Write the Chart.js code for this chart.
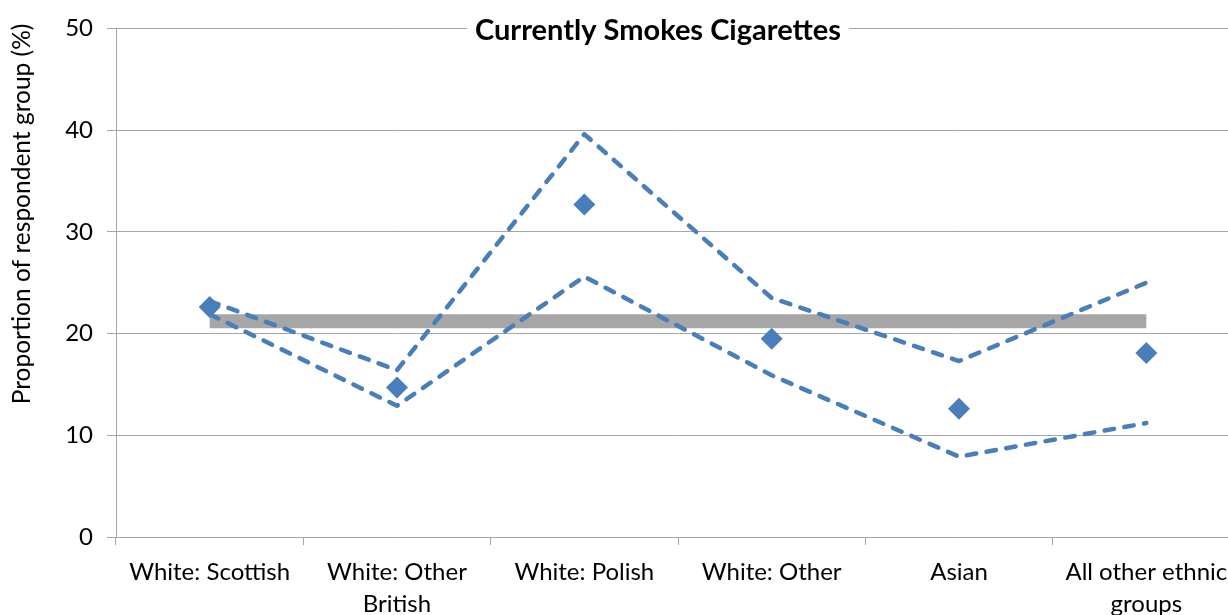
<!DOCTYPE html>
<html>
<head>
<meta charset="utf-8">
<script src="https://cdn.jsdelivr.net/npm/chart.js@4.4.1/dist/chart.umd.min.js"></script>
<style>
  html, body { margin: 0; padding: 0; background: #ffffff; overflow: hidden; }
  #wrap { width: 1316px; height: 615px; }
</style>
</head>
<body>
<div id="wrap"><canvas id="chart" width="1316" height="615"></canvas></div>
<script>
// Ethnic groups on the category axis (multi-line labels as arrays)
const categories = [
  'White: Scottish',
  ['White: Other', 'British'],
  'White: Polish',
  'White: Other',
  'Asian',
  ['All other ethnic', 'groups']
];

// Share currently smoking cigarettes (%)
const estimate   = [22.6, 14.7, 32.7, 19.5, 12.6, 18.1];
const upperBound = [23.2, 16.4, 39.6, 23.5, 17.3, 25.0];
const lowerBound = [21.9, 12.9, 25.6, 15.9, 7.9, 11.2];
// Overall rate for all respondents
const overall    = [21.2, 21.2, 21.2, 21.2, 21.2, 21.2];

const yTicks = [0, 10, 20, 30, 40, 50];

const chartTitle = 'Currently Smokes Cigarettes';
const yTitle = 'Proportion of respondent group (%)';

const FONT = 'Lato, "Open Sans", sans-serif';
const BLUE = '#4a7ebb';
const GRID = '#a6a6a6';

// Title sits over the top gridline on a white patch; y title drawn rotated
const annotations = {
  id: 'annotations',
  afterDraw(chart) {
    const { ctx, chartArea } = chart;
    ctx.save();
    ctx.font = 'bold 29px ' + FONT;
    const w = ctx.measureText(chartTitle).width;
    const cx = chart.width / 2;
    const cy = chartArea.top + 2;
    ctx.fillStyle = '#ffffff';
    ctx.fillRect(cx - w / 2 - 8, cy - 16, w + 16, 32);
    ctx.fillStyle = '#000000';
    ctx.textAlign = 'center';
    ctx.textBaseline = 'middle';
    ctx.fillText(chartTitle, cx, cy);

    ctx.font = '24.5px ' + FONT;
    ctx.translate(22, 214);
    ctx.rotate(-Math.PI / 2);
    ctx.fillText(yTitle, 0, 0);
    ctx.restore();
  }
};

const dashed = {
  borderColor: BLUE,
  borderWidth: 4.5,
  borderDash: [9.5, 10.5],
  borderCapStyle: 'round',
  borderJoinStyle: 'round',
  pointRadius: 0,
  fill: false,
  tension: 0
};

new Chart(document.getElementById('chart'), {
  type: 'line',
  data: {
    labels: categories,
    datasets: [
      {
        label: 'Estimate',
        data: estimate,
        showLine: false,
        pointStyle: 'rectRot',
        pointRadius: 11,
        pointHoverRadius: 11,
        pointBackgroundColor: BLUE,
        pointBorderColor: BLUE,
        pointBorderWidth: 0,
        order: 0
      },
      Object.assign({ label: 'Upper', data: upperBound, order: 1 }, dashed),
      Object.assign({ label: 'Lower', data: lowerBound, order: 2 }, dashed),
      {
        label: 'All respondents',
        data: overall,
        borderColor: '#a6a6a6',
        borderWidth: 14,
        borderCapStyle: 'butt',
        pointRadius: 0,
        fill: false,
        order: 3
      }
    ]
  },
  options: {
    responsive: false,
    animation: false,
    events: [],
    layout: { padding: { top: 27, right: 76, left: 0, bottom: 0 } },
    plugins: {
      legend: { display: false },
      title: { display: false },
      tooltip: { enabled: false }
    },
    scales: {
      x: {
        type: 'category',
        offset: true,
        grid: {
          offset: true,
          drawOnChartArea: false,
          drawTicks: true,
          tickLength: 8,
          color: GRID
        },
        border: { color: GRID, width: 1 },
        ticks: {
          color: '#000000',
          font: { family: FONT, size: 24, lineHeight: 1.3 },
          padding: 12,
          maxRotation: 0,
          autoSkip: false
        },
        afterFit(scale) { scale.height = 78; }
      },
      y: {
        min: 0,
        max: 50,
        afterBuildTicks(scale) { scale.ticks = yTicks.map(v => ({ value: v })); },
        grid: {
          color: GRID,
          lineWidth: 1,
          tickLength: 9
        },
        border: { color: GRID, width: 1 },
        ticks: {
          color: '#000000',
          font: { family: FONT, size: 24 },
          padding: 14
        },
        afterFit(scale) { scale.width = 116; }
      }
    }
  },
  plugins: [annotations]
});
</script>
</body>
</html>
